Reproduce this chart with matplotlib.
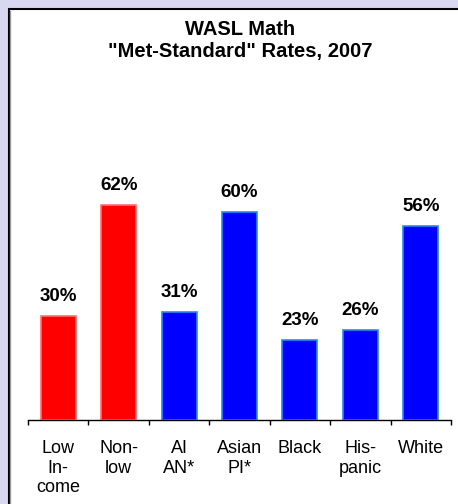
import matplotlib.pyplot as plt
from matplotlib.patches import Rectangle
from matplotlib.lines import Line2D

plt.rcParams['font.family'] = ['Liberation Sans', 'DejaVu Sans']

categories = ['Low\nIn-\ncome', 'Non-\nlow', 'AI\nAN*', 'Asian\nPI*', 'Black', 'His-\npanic', 'White']
rates = [30, 62, 31, 60, 23, 26, 56]
groups = ['income', 'income', 'race', 'race', 'race', 'race', 'race']
title_lines = ['WASL Math', '"Met-Standard" Rates, 2007']

fill = {'income': '#FF0000', 'race': '#0000FF'}
edge = {'income': '#FF7070', 'race': '#2A8AF0'}

W, H = 458, 504
fig = plt.figure(figsize=(W / 100, H / 100), dpi=100)
fig.patch.set_facecolor('#D8D8F0')

# white panel with black border on top/left (runs off the right and bottom)
panel = Rectangle((8.5 / W, -0.1), 1, 1.1 - 9.5 / H, transform=fig.transFigure,
                  facecolor='white', edgecolor='black', lw=1.5, zorder=-2)
fig.patches.append(panel)
fig.lines.append(Line2D([10 / W, 10 / W], [0, 1 - 11 / H], transform=fig.transFigure,
                        color='#999999', lw=1, zorder=-1))

ax = fig.add_axes([28 / W, 84 / H, 423 / W, 243 / H])
ax.set_facecolor('none')
x = list(range(len(categories)))
bars = ax.bar(x, rates, width=0.58,
              color=[fill[g] for g in groups],
              edgecolor=[edge[g] for g in groups], linewidth=1.2)

for xi, r in zip(x, rates):
    ax.annotate(f'{r}%', (xi, r), xytext=(0, 10.8), textcoords='offset points',
                ha='center', va='baseline', fontsize=13.5, fontweight='bold')

ax.set_xlim(-0.5, len(categories) - 0.5)
ax.set_ylim(0, 70)
for s in ['top', 'right', 'left']:
    ax.spines[s].set_visible(False)
ax.spines['bottom'].set_linewidth(1)
ax.set_yticks([])

ax.set_xticks([i - 0.5 for i in range(len(categories) + 1)])
ax.set_xticklabels([])
ax.tick_params(axis='x', which='major', direction='out', length=3.6, width=1, color='black')
ax.set_xticks(x, minor=True)
ax.set_xticklabels(categories, minor=True, fontsize=13, linespacing=1.2)
ax.tick_params(axis='x', which='minor', length=0, pad=14.4)

fig.text(240 / W, 1 - 35 / H, title_lines[0], ha='center', va='baseline',
         fontsize=14.5, fontweight='bold')
fig.text(240 / W, 1 - 57 / H, title_lines[1], ha='center', va='baseline',
         fontsize=14.5, fontweight='bold')

fig.savefig('out.png', dpi=100)
